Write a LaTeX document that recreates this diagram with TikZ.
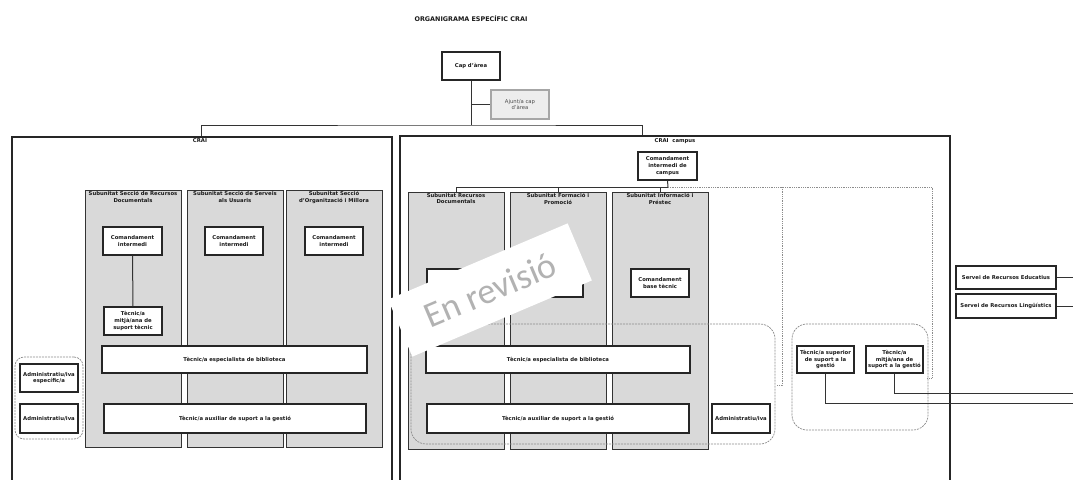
\documentclass[tikz,border=0pt]{standalone}
\usepackage{fontspec}
\setmainfont{DejaVu Sans}
\newfontfamily\wmfont{Carlito}
\begin{document}
\begin{tikzpicture}[x=1pt,y=-1pt,
 txt/.style={font=\fontsize{5.3}{6.6}\selectfont\bfseries, align=center, text=black!90},
 ubox/.style={txt, draw=black!85, line width=1.2pt, fill=white, inner sep=1pt},
 colbox/.style={draw=black!80, line width=0.9pt, fill=black!15, inner sep=0pt},
 coltitle/.style={txt, anchor=north, yshift=-1.5pt, inner sep=0pt},
 outer/.style={draw=black!85, line width=1.8pt, inner sep=0pt},
 srv/.style={txt, draw=black!85, line width=1.8pt, fill=white, inner sep=1pt},
 grp/.style={draw=black!45, dash pattern=on 2pt off 1pt, line width=0.7pt, rounded corners=12pt, inner sep=0pt},
 conn/.style={draw=black!80, line width=1pt},
 dots/.style={draw=black!45, line width=0.9pt, dash pattern=on 1pt off 0.8pt},
]
\path[use as bounding box, clip] (0,0) rectangle (1073,479);
\fill[white] (0,0) rectangle (1073,479);

% title
\node[txt, font=\fontsize{6.4}{7.5}\selectfont\bfseries] (title) at (471,19) {ORGANIGRAMA ESPECÍFIC CRAI};

% outer containers
\node[outer, minimum width=380pt, minimum height=400pt, anchor=north west] (crai) at (11,136) {};
\node[outer, minimum width=550pt, minimum height=400pt, anchor=north west] (campus) at (399,135) {};
\node[txt] (craiL) at (200,141) {CRAI};
\node[txt] (campusL) at (675,141) {CRAI\ \ campus};

% top
\node[ubox, minimum width=58pt, minimum height=28pt] (cap) at (471,66) {Cap d'àrea};
\node[ubox, fill=black!7, draw=black!35, text=black!70, font=\fontsize{5.3}{6.6}\selectfont, minimum width=58pt, minimum height=29pt] (ajunt) at (520,104.5) {Ajunt/a cap\\d'àrea};
\coordinate (bus) at (471,125);
\draw[conn] (cap.south) -- (bus);
\draw[conn] (cap.south |- ajunt.west) -- (ajunt.west);
\draw[conn] (crai.north) |- (bus) -| ([xshift=243pt]campus.north west);

% CRAI columns
\node[colbox, minimum width=96pt, minimum height=257pt] (s1) at (133,318.5) {};
\node[colbox, minimum width=96pt, minimum height=257pt] (s2) at (235,318.5) {};
\node[colbox, minimum width=96pt, minimum height=257pt] (s3) at (334,318.5) {};
\node[coltitle] (s1t) at (s1.north) {Subunitat Secció de Recursos\\Documentals};
\node[coltitle] (s2t) at (s2.north) {Subunitat Secció de Serveis\\als Usuaris};
\node[coltitle] (s3t) at (s3.north) {Subunitat Secció\\d'Organització i Millora};

\node[ubox, minimum width=59pt, minimum height=28pt] (c1) at (132.5,241) {Comandament\\intermedi};
\node[ubox, minimum width=58pt, minimum height=28pt] (c2) at (234,241) {Comandament\\intermedi};
\node[ubox, minimum width=58pt, minimum height=28pt] (c3) at (334,241) {Comandament\\intermedi};
\node[ubox, minimum width=58pt, minimum height=28pt] (t1) at (133,321) {Tècnic/a\\mitjà/ana de\\suport tècnic};
\draw[conn] (c1) -- (t1);
\node[ubox, minimum width=265pt, minimum height=27pt] (esp1) at (234.5,359.5) {Tècnic/a especialista de biblioteca};
\node[ubox, minimum width=262pt, minimum height=29pt] (aux1) at (235,418.5) {Tècnic/a auxiliar de suport a la gestió};

\node[grp, minimum width=68pt, minimum height=82pt, rounded corners=9pt] (grpL) at (49,398) {};
\node[ubox, minimum width=58pt, minimum height=28pt] (adm1) at (49,378) {Administratiu/iva\\específic/a};
\node[ubox, minimum width=58pt, minimum height=29pt] (adm2) at (49,418.5) {Administratiu/iva};

% CRAI campus
\node[ubox, minimum width=59pt, minimum height=28pt] (cc) at (667.5,166) {Comandament\\intermedi de\\campus};
\node[colbox, minimum width=96pt, minimum height=257pt] (p1) at (456,320.5) {};
\node[colbox, minimum width=96pt, minimum height=257pt] (p2) at (558,320.5) {};
\node[colbox, minimum width=96pt, minimum height=257pt] (p3) at (660,320.5) {};
\node[coltitle] (p1t) at (p1.north) {Subunitat Recursos\\Documentals};
\node[coltitle] (p2t) at (p2.north) {Subunitat Formació i\\Promoció};
\node[coltitle] (p3t) at (p3.north) {Subunitat Informació i\\Préstec};

\coordinate (cbus) at (668,187);
\draw[conn] (cc.south) -- (cbus);
\draw[conn] (p1.north) |- (cbus);
\draw[conn] (p2.north) -- (p2.north |- cbus);
\draw[conn] (p3.north) -- (p3.north |- cbus);

\coordinate (dA) at (932,187);
\coordinate (dAe) at (932,378);
\coordinate (dAh) at (927,378);
\coordinate (dB) at (782,187);
\coordinate (dBe) at (782,385);
\coordinate (dBh) at (777,385);
\draw[dots] (cbus) -- (dA) -- (dAe) -- (dAh);
\draw[dots] (dB) -- (dBe) -- (dBh);

% boxes hidden under the watermark
\node[ubox, minimum width=58pt, minimum height=28pt] (b1) at (456,283) {};
\node[ubox, minimum width=58pt, minimum height=28pt] (b2) at (554,283) {};
\node[ubox, minimum width=58pt, minimum height=28pt] (b3) at (660,283) {Comandament\\base tècnic};

\node[grp, minimum width=364pt, minimum height=120pt, rounded corners=15pt] (grpC) at (593,384) {};
\node[ubox, minimum width=264pt, minimum height=27pt] (esp2) at (558,359.5) {Tècnic/a especialista de biblioteca};
\node[ubox, minimum width=262pt, minimum height=29pt] (aux2) at (558,418.5) {Tècnic/a auxiliar de suport a la gestió};
\node[ubox, minimum width=58pt, minimum height=29pt] (adm3) at (741,418.5) {Administratiu/iva};

% right group
\node[grp, minimum width=136pt, minimum height=106pt, rounded corners=15pt] (grpR) at (860,377) {};
\node[ubox, minimum width=57pt, minimum height=27pt] (sup) at (825.5,359.5) {Tècnic/a superior\\de suport a la\\gestió};
\node[ubox, minimum width=57pt, minimum height=27pt] (mit) at (894.5,359.5) {Tècnic/a\\mitjà/ana de\\suport a la gestió};
\coordinate (eR1) at (1080,403);
\coordinate (eR2) at (1080,393);
\draw[conn] (sup.south) |- (eR1);
\draw[conn] (mit.south) |- (eR2);

\node[srv, minimum width=100pt, minimum height=23pt] (sre) at (1006,277.5) {Servei de Recursos Educatius};
\node[srv, minimum width=100pt, minimum height=24pt] (srl) at (1006,306) {Servei de Recursos Lingüístics};
\coordinate (eS) at (1080,0);
\draw[conn] (sre.east) -- (sre.east -| eS);
\draw[conn] (srl.east) -- (srl.east -| eS);

% watermark
\node[fill=white, minimum width=195pt, minimum height=62pt, rotate=23, text=black!30, font=\wmfont\fontsize{36}{36}\selectfont] (wm) at (490,290) {En revisió};
\end{tikzpicture}
\end{document}
